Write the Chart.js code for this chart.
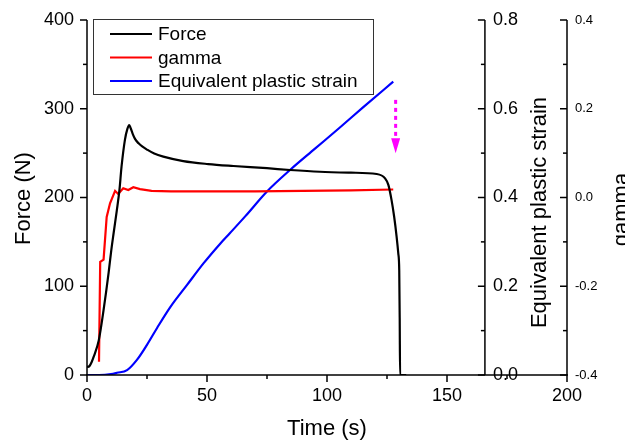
<!DOCTYPE html>
<html>
<head>
<meta charset="utf-8">
<script src="https://cdn.jsdelivr.net/npm/chart.js@4.4.1/dist/chart.umd.min.js"></script>
<style>
  body { margin: 0; background: #fff; }
  canvas { display: block; }
</style>
</head>
<body>
<canvas id="myChart" width="625" height="443"></canvas>
<script>
// Force (N) vs time (s)
const forceTime = [0, 1, 2, 2.8, 4.9, 6.9, 9, 10, 11.1, 12.4, 13.5, 14.4, 15.8, 16.8, 17.6, 18.2, 19, 20, 21.5, 23, 25, 28, 31.8, 40.1, 50.5, 61, 75, 84.6, 97, 110, 120.7, 124.2, 125.6, 126.9, 128, 129, 129.7, 130.1, 130.3, 130.45, 131.5, 133]
const force = [9, 10, 15, 20.6, 39, 73, 115, 138, 160, 185, 208, 235, 265, 277, 281.5, 278, 272, 266, 261, 257.5, 254, 249.5, 246, 241, 237.7, 235.5, 233, 231, 229, 228, 226.5, 221.6, 214, 197, 178, 156, 137, 118, 62, 0, 0, 0]

// gamma vs time (s)
const gammaTime = [5.0, 5.5, 6.9, 8.2, 9.6, 11.7, 13.0, 15.1, 17.2, 19.3, 22.1, 26.9, 35, 50, 70, 90, 110, 127.6]
const gamma = [-0.370, -0.145, -0.140, -0.044, -0.013, 0.015, 0.008, 0.021, 0.017, 0.023, 0.019, 0.015, 0.014, 0.014, 0.014, 0.015, 0.016, 0.018]

// equivalent plastic strain vs time (s)
const strainTime = [0, 5, 10, 12.5, 16.7, 20.8, 25, 29.2, 34.7, 41.7, 48.6, 55.5, 59.6, 66, 74.9, 84.6, 95, 105, 115, 127.6]
const strain = [0, 0, 0.002, 0.005, 0.011, 0.034, 0.068, 0.106, 0.153, 0.203, 0.252, 0.296, 0.320, 0.358, 0.413, 0.462, 0.510, 0.556, 0.603, 0.661]

// tick labels
const timeTicks = [0, 50, 100, 150, 200]
const forceTicks = [0, 100, 200, 300, 400]
const strainTicks = ['0.0', '0.2', '0.4', '0.6', '0.8']
const gammaTicks = ['-0.4', '-0.2', '0.0', '0.2', '0.4']

// magenta arrow: [time, force from, force to]
const arrow = [128.6, 310, 250]

const FONT = '"Liberation Sans", Arial, sans-serif'
const STRAIN_AXIS_AT = 165.8 // time value where the strain axis stands

const pts = (xs, ys) => xs.map((t, i) => ({ x: t, y: ys[i] }))

function seg(ctx, x1, y1, x2, y2) {
    ctx.beginPath()
    ctx.moveTo(x1, y1)
    ctx.lineTo(x2, y2)
    ctx.stroke()
}

function vTitle(ctx, text, x, y, size) {
    ctx.save()
    ctx.translate(x, y)
    ctx.rotate(-Math.PI / 2)
    ctx.font = size + 'px ' + FONT
    ctx.textAlign = 'center'
    ctx.textBaseline = 'alphabetic'
    ctx.fillText(text, 0, 0)
    ctx.restore()
}

const originAxes = {
    id: 'originAxes',
    afterDatasetsDraw(chart) {
        const ctx = chart.ctx
        const { x, yForce, yStrain, yGamma } = chart.scales
        const a = chart.chartArea
        const sx = x.getPixelForValue(STRAIN_AXIS_AT)
        ctx.save()
        ctx.strokeStyle = '#000'
        ctx.fillStyle = '#000'
        ctx.lineWidth = 1.5

        seg(ctx, a.left, a.top, a.left, a.bottom)
        seg(ctx, a.left - 1, a.bottom, a.right + 1, a.bottom)
        seg(ctx, sx, a.top, sx, a.bottom)
        seg(ctx, a.right, a.top, a.right, a.bottom)

        // x axis
        ctx.font = '18px ' + FONT
        ctx.textAlign = 'center'
        ctx.textBaseline = 'middle'
        timeTicks.forEach((v, i) => {
            const px = x.getPixelForValue(v)
            seg(ctx, px, a.bottom, px, a.bottom + 7)
            ctx.fillText(String(v), px, a.bottom + 21)
            if (i < timeTicks.length - 1) {
                const mx = x.getPixelForValue((v + timeTicks[i + 1]) / 2)
                seg(ctx, mx, a.bottom, mx, a.bottom + 4)
            }
        })

        // force axis (left)
        ctx.textAlign = 'right'
        forceTicks.forEach((v, i) => {
            const py = yForce.getPixelForValue(v)
            seg(ctx, a.left - 7, py, a.left, py)
            ctx.fillText(String(v), a.left - 13, py)
            if (i < forceTicks.length - 1) {
                const my = yForce.getPixelForValue((v + forceTicks[i + 1]) / 2)
                seg(ctx, a.left - 4, my, a.left, my)
            }
        })

        // strain axis
        ctx.textAlign = 'left'
        strainTicks.forEach((lab, i) => {
            const v = parseFloat(lab)
            const py = yStrain.getPixelForValue(v)
            seg(ctx, sx - 7, py, sx, py)
            ctx.fillText(lab, sx + 8, py)
            if (i < strainTicks.length - 1) {
                const my = yStrain.getPixelForValue((v + parseFloat(strainTicks[i + 1])) / 2)
                seg(ctx, sx - 4, my, sx, my)
            }
        })

        // gamma axis
        ctx.font = '13px ' + FONT
        gammaTicks.forEach((lab, i) => {
            const v = parseFloat(lab)
            const py = yGamma.getPixelForValue(v)
            seg(ctx, a.right - 7, py, a.right, py)
            ctx.fillText(lab, a.right + 8, py)
            if (i < gammaTicks.length - 1) {
                const my = yGamma.getPixelForValue((v + parseFloat(gammaTicks[i + 1])) / 2)
                seg(ctx, a.right - 4, my, a.right, my)
            }
        })

        // titles
        ctx.font = '22px ' + FONT
        ctx.textAlign = 'center'
        ctx.textBaseline = 'middle'
        ctx.fillText('Time (s)', (a.left + a.right) / 2, 429)
        vTitle(ctx, 'Force (N)', 30, (a.top + a.bottom) / 2 + 1, 22)
        vTitle(ctx, 'Equivalent plastic strain', 546, (a.top + a.bottom) / 2 + 15, 22)
        vTitle(ctx, 'gamma', 628, (a.top + a.bottom) / 2 + 12, 22)

        // dotted arrow
        const ax = x.getPixelForValue(arrow[0])
        const y0 = yForce.getPixelForValue(arrow[1])
        const tip = yForce.getPixelForValue(arrow[2])
        ctx.strokeStyle = '#ff00ff'
        ctx.fillStyle = '#ff00ff'
        ctx.lineWidth = 3
        ctx.setLineDash([4, 4])
        seg(ctx, ax, y0, ax, tip - 15)
        ctx.setLineDash([])
        ctx.beginPath()
        ctx.moveTo(ax - 4.5, tip - 15)
        ctx.lineTo(ax + 4.5, tip - 15)
        ctx.lineTo(ax, tip)
        ctx.closePath()
        ctx.fill()
        ctx.restore()
    },
    afterDraw(chart) {
        // legend box inside the plot
        const ctx = chart.ctx
        ctx.save()
        ctx.strokeStyle = '#333'
        ctx.lineWidth = 1
        ctx.strokeRect(93.5, 19.5, 280, 75)
        ctx.font = '19px ' + FONT
        ctx.textAlign = 'left'
        ctx.textBaseline = 'middle'
        chart.data.datasets.forEach((ds, i) => {
            const y = 34 + i * 23.5
            ctx.strokeStyle = ds.borderColor
            ctx.lineWidth = 2.2
            seg(ctx, 110, y, 152, y)
            ctx.fillStyle = '#000'
            ctx.fillText(ds.label, 158, y + 1)
        })
        ctx.restore()
    }
}

new Chart(document.getElementById('myChart'), {
    type: 'line',
    data: {
        datasets: [
            {
                label: 'Force',
                data: pts(forceTime, force),
                yAxisID: 'yForce',
                borderColor: '#000000',
                cubicInterpolationMode: 'monotone',
            },
            {
                label: 'gamma',
                data: pts(gammaTime, gamma),
                yAxisID: 'yGamma',
                borderColor: '#ff0000',
                tension: 0,
            },
            {
                label: 'Equivalent plastic strain',
                data: pts(strainTime, strain),
                yAxisID: 'yStrain',
                borderColor: '#0000ff',
                cubicInterpolationMode: 'monotone',
            },
        ],
    },
    options: {
        responsive: false,
        animation: false,
        layout: { padding: { left: 87, top: 20, right: 58, bottom: 68 } },
        elements: {
            point: { radius: 0 },
            line: { borderWidth: 2.2, fill: false },
        },
        scales: {
            x: { type: 'linear', min: 0, max: 200, display: false },
            yForce: { type: 'linear', position: 'left', min: 0, max: 400, display: false },
            yStrain: { type: 'linear', position: 'right', min: 0, max: 0.8, display: false },
            yGamma: { type: 'linear', position: 'right', min: -0.4, max: 0.4, display: false },
        },
        plugins: {
            legend: { display: false },
            tooltip: { enabled: false },
        },
    },
    plugins: [originAxes],
})
</script>
</body>
</html>
